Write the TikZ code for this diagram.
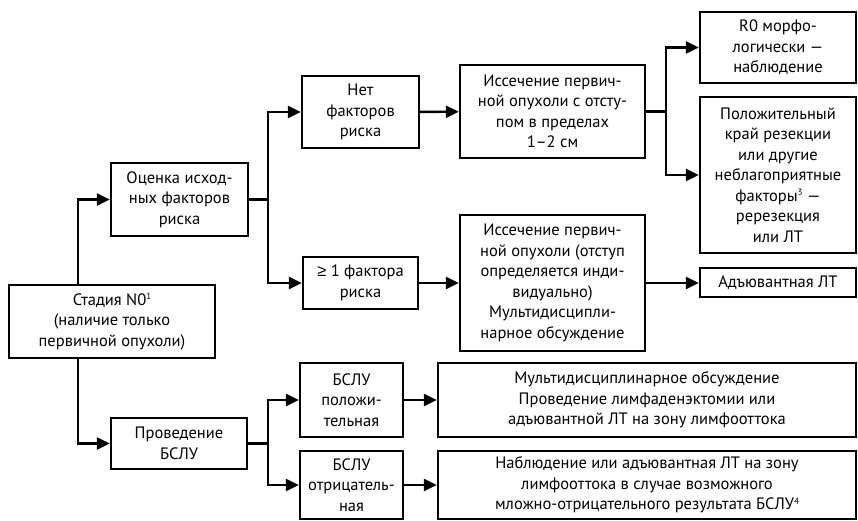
\documentclass[tikz,border=0pt]{standalone}
\usepackage{fontspec}
\setmainfont{PT Sans}
\newfontfamily\symfont{Liberation Sans}
\usetikzlibrary{arrows.meta,calc}
\tikzset{
  box/.style={draw, line width=2.4pt, align=center, inner sep=0pt, font=\fontsize{16.5}{20.5}\selectfont},
  arr/.style={line width=2.4pt, -{Triangle[length=13pt,width=12pt]}},
  ln/.style={line width=2.4pt},
}
\newcommand{\sups}[1]{\raisebox{5.5pt}{\fontsize{9}{9}\selectfont #1}}
\newcommand{\bx}[6]{\node[box, minimum width={#4-#2}, minimum height={#5-#3}] (#1) at ({(#2+#4)/2},{(#3+#5)/2}) {#6};}
\begin{document}
\begin{tikzpicture}[x=1pt,y=-1pt]
\useasboundingbox (0,0) rectangle (858,520);
\bx{n0}{9}{285}{215}{358}{Стадия N0\sups{1}\\(наличие только\\первичной опухоли)}
\bx{oc}{111}{163}{248}{236}{Оценка исход-\\ных факторов\\риска}
\bx{pr}{111}{418}{247}{469}{Проведение\\БСЛУ}
\bx{net}{302}{76}{419}{148}{Нет\\факторов\\риска}
\bx{ge}{303}{257}{418}{309}{{\symfont ≥} 1 фактора\\риска}
\bx{is1}{460}{65}{645}{158}{Иссечение первич-\\ной опухоли с отсту-\\пом в пределах\\1–2 см}
\bx{is2}{460}{215}{645}{351}{Иссечение первич-\\ной опухоли (отступ\\определяется инди-\\видуально)\\Мультидисципли-\\нарное обсуждение}
\bx{r0}{700}{12}{856}{83}{R0 морфо-\\логически —\\наблюдение}
\bx{pos}{700}{97}{856}{253}{Положительный\\край резекции\\или другие\\неблагоприятные\\факторы\sups{3} —\\ререзекция\\или ЛТ}
\bx{ad}{700}{268}{856}{297}{Адъювантная ЛТ}
\bx{bp}{300}{363}{403}{437}{БСЛУ\\положи-\\тельная}
\bx{bn}{300}{451}{403}{519}{БСЛУ\\отрицатель-\\ная}
\bx{mu}{438}{363}{856}{437}{Мультидисциплинарное обсуждение\\Проведение лимфаденэктомии или\\адъювантной ЛТ на зону лимфооттока}
\bx{nb}{438}{451}{856}{519}{Наблюдение или адъювантная ЛТ на зону\\лимфооттока в случае возможного\\мложно-отрицательного результата БСЛУ\sups{4}}
\coordinate (c0) at (78,0);
\coordinate (c1) at (268,0);
\coordinate (c2) at (666,0);
\draw[arr] (n0.north -| c0) |- (oc.west);
\draw[arr] (n0.south -| c0) |- (pr.west);
\draw[ln] (oc.east) -- (oc.east -| c1);
\draw[arr] (oc.east -| c1) |- (net.west);
\draw[arr] (oc.east -| c1) |- (ge.west);
\draw[ln] (pr.east) -- (pr.east -| c1);
\draw[arr] (pr.east -| c1) |- (bp.west);
\draw[arr] (pr.east -| c1) |- (bn.west);
\draw[arr] (net) -- (is1);
\draw[arr] (ge) -- (is2);
\draw[ln] (is1.east) -- (is1.east -| c2);
\draw[arr] (is1.east -| c2) |- (r0.west);
\draw[arr] (is1.east -| c2) |- (pos.west);
\draw[arr] (is2.east) -- (is2.east -| ad.west);
\draw[arr] (bp) -- (mu);
\draw[arr] (bn) -- (nb);
\end{tikzpicture}
\end{document}
